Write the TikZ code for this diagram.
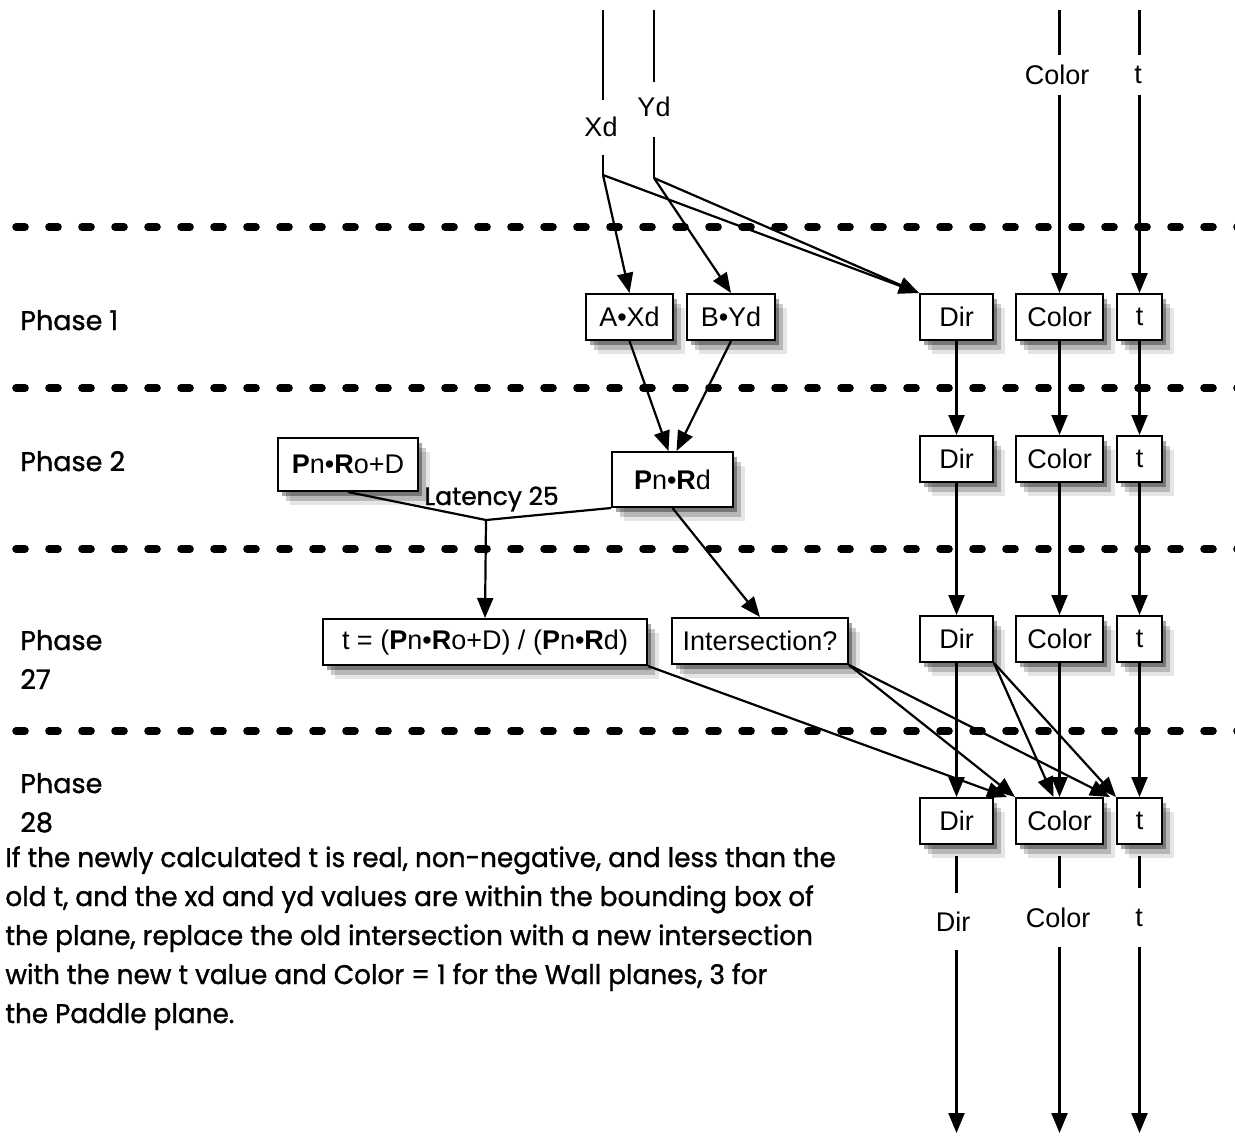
\documentclass[tikz,border=0pt]{standalone}
\usepackage{fontspec}
\usepackage{graphicx}
\usetikzlibrary{arrows.meta,shadows}
\newfontfamily\hel{Liberation Sans}
\newfontfamily\fut[FakeBold=1.2]{Poppins}
\begin{document}
\begin{tikzpicture}[x=0.5pt,y=-0.5pt,
 shd/.style={drop shadow={shadow xshift=2pt,shadow yshift=-2.5pt,opacity=0.35,fill=black},
             drop shadow={shadow xshift=4pt,shadow yshift=-5pt,opacity=0.2,fill=black},
             drop shadow={shadow xshift=6pt,shadow yshift=-7pt,opacity=0.1,fill=black}},
 box/.style={draw, line width=1pt, fill=white, shd, font=\hel\fontsize{13.5}{15}\selectfont,
             minimum height=23pt, inner sep=0pt},
 conn/.style={line width=1.1pt, -{Triangle[length=10pt,width=8pt]}},
 plain/.style={line width=1.1pt},
 phaseline/.style={line width=3.8pt, line cap=round, dash pattern=on 4.5pt off 12pt},
 lab/.style={font=\hel\fontsize{13.5}{15}\selectfont, inner sep=0pt},
 fut/.style={font=\fut\fontsize{13.5}{19.5}\selectfont, inner sep=0pt, anchor=base west}
]
\useasboundingbox (0,0) rectangle (1235,1136);

% phase separators
\foreach \yy in {227,388,549,731}
  \draw[phaseline] (16,\yy) -- (1240,\yy);

% phase labels
\node[fut] (p1) at (20,330) {Phase 1};
\node[fut] (p2) at (20,471) {Phase 2};
\node[fut] (p27) at (20,650) {\begin{tabular}[t]{@{}l@{}}Phase\\27\end{tabular}};
\node[fut] (p28) at (20,793) {\begin{tabular}[t]{@{}l@{}}Phase\\28\end{tabular}};
\node[fut, font=\fut\fontsize{12.5}{15}\selectfont] (lat) at (424,505) {Latency 25};
\node[fut] (para) at (5,867) {\scalebox{0.975}[1]{\begin{tabular}[t]{@{}l@{}}%
If the newly calculated t is real, non-negative, and less than the\\
old t, and the xd and yd values are within the bounding box of\\
the plane, replace the old intersection with a new intersection\\
with the new t value and Color = 1 for the Wall planes, 3 for\\
the Paddle plane.\end{tabular}}};

% top inputs
\node[lab] (xdl) at (601,127) {Xd};
\node[lab] (ydl) at (654,107) {Yd};
\node[lab] (coll) at (1057,75) {Color};
\node[lab] (tl) at (1138,75) {t};
\coordinate (xd0) at (603,10);  \coordinate (xd1) at (603,100);
\coordinate (xd2) at (603,155); \coordinate (xd) at (603,175);
\coordinate (yd0) at (654,10);  \coordinate (yd1) at (654,82);
\coordinate (yd2) at (654,137); \coordinate (yd) at (654,178);
\coordinate (c0) at (1059.5,10); \coordinate (c1) at (1059.5,55); \coordinate (c2) at (1059.5,95);
\coordinate (t0) at (1139.5,10); \coordinate (t1c) at (1139.5,55); \coordinate (t2c) at (1139.5,95);

% phase 1
\node[box, minimum width=43.5pt] (axd) at (629.5,317) {A•Xd};
\node[box, minimum width=44pt] (byd) at (731,317) {B•Yd};
\node[box, minimum width=36.5pt] (dirA) at (956.5,317) {Dir};
\node[box, minimum width=43.5pt] (colA) at (1059.5,317) {Color};
\node[box, minimum width=22.5pt] (tA) at (1139.5,317) {t};

% phase 2
\node[box, minimum width=70pt, minimum height=26.5pt] (pnro) at (348,464.5) {\textbf{P}n•\textbf{R}o+D};
\node[box, minimum width=60.5pt, minimum height=27.5pt] (pnrd) at (672.5,479.5) {\textbf{P}n•\textbf{R}d};
\node[box, minimum width=36.5pt] (dirB) at (956.5,459) {Dir};
\node[box, minimum width=43.5pt] (colB) at (1059.5,459) {Color};
\node[box, minimum width=22.5pt] (tB) at (1139.5,459) {t};
\coordinate (merge) at (486,520);

% phase 27
\node[box, minimum width=162pt] (tbox) at (485,642) {t = (\textbf{P}n•\textbf{R}o+D) / (\textbf{P}n•\textbf{R}d)};
\node[box, minimum width=88pt] (inter) at (760,641) {Intersection?};
\node[box, minimum width=36.5pt] (dirC) at (956.5,639) {Dir};
\node[box, minimum width=43.5pt] (colC) at (1059.5,639) {Color};
\node[box, minimum width=22.5pt] (tC) at (1139.5,639) {t};

% phase 28
\node[box, minimum width=36.5pt] (dirD) at (956.5,821) {Dir};
\node[box, minimum width=43.5pt] (colD) at (1059.5,821) {Color};
\node[box, minimum width=22.5pt] (tD) at (1139.5,821) {t};

% bottom outputs
\node[lab] (dirl) at (953,922) {Dir};
\node[lab] (colo) at (1058,918) {Color};
\node[lab] (tlo) at (1139,918) {t};
\coordinate (bd0) at (956.5,856);  \coordinate (bd1) at (956.5,893);
\coordinate (bd2) at (956.5,950);  \coordinate (bd3) at (956.5,1133);
\coordinate (bc0) at (1059.5,856); \coordinate (bc1) at (1059.5,888);
\coordinate (bc2) at (1059.5,947); \coordinate (bc3) at (1059.5,1133);
\coordinate (bt0) at (1139.5,856); \coordinate (bt1) at (1139.5,888);
\coordinate (bt2) at (1139.5,947); \coordinate (bt3) at (1139.5,1133);

% connectors: top
\draw[plain] (xd0) -- (xd1);
\draw[plain] (xd2) -- (xd);
\draw[plain] (yd0) -- (yd1);
\draw[plain] (yd2) -- (yd);
\draw[plain] (c0) -- (c1);
\draw[plain] (t0) -- (t1c);
\draw[conn] (c2) -- (colA.north);
\draw[conn] (t2c) -- (tA.north);
\draw[conn] (xd) -- (axd.north);
\draw[conn] (yd) -- (byd.north);
\draw[conn] (xd) -- (dirA.north west);
\draw[conn] (yd) -- (dirA.north west);

% phase 1 -> 2
\draw[conn] (axd.south) -- ([xshift=-2pt]pnrd.north);
\draw[conn] (byd.south) -- ([xshift=2pt]pnrd.north);
\draw[conn] (dirA) -- (dirB);
\draw[conn] (colA) -- (colB);
\draw[conn] (tA) -- (tB);

% phase 2 -> 27
\draw[plain] (pnro.south) -- (merge) -- (pnrd.south west);
\draw[conn] (merge) -- (tbox.north);
\draw[conn] (pnrd.south) -- (inter.north);
\draw[conn] (dirB) -- (dirC);
\draw[conn] (colB) -- (colC);
\draw[conn] (tB) -- (tC);

% phase 27 -> 28
\draw[conn] (tbox.south east) -- ([xshift=-4pt]colD.north west);
\draw[conn] (inter.south east) -- (colD.north west);
\draw[conn] (inter.south east) -- ([xshift=-3pt]tD.north west);
\draw[conn] (dirC.south east) -- ([xshift=-3pt]colD.north);
\draw[conn] (dirC.south east) -- (tD.north west);
\draw[conn] (dirC) -- (dirD);
\draw[conn] (colC) -- (colD);
\draw[conn] (tC) -- (tD);

% outputs
\draw[plain] (bd0) -- (bd1);
\draw[conn] (bd2) -- (bd3);
\draw[plain] (bc0) -- (bc1);
\draw[conn] (bc2) -- (bc3);
\draw[plain] (bt0) -- (bt1);
\draw[conn] (bt2) -- (bt3);
\end{tikzpicture}
\end{document}
